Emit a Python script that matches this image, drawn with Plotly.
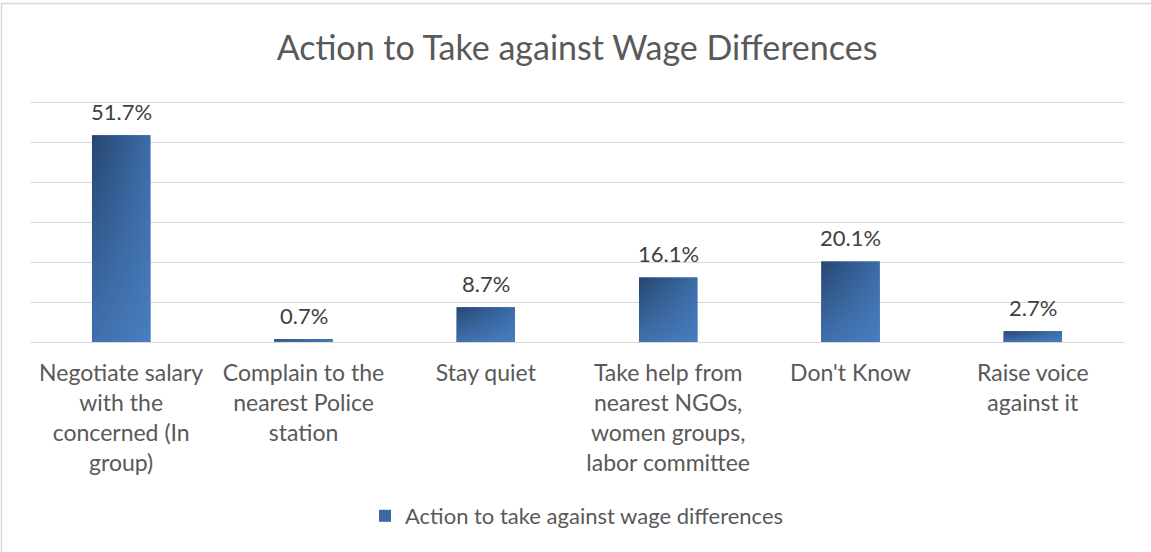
import plotly.graph_objects as go

# Survey responses: share of respondents choosing each action
categories = [
    "Negotiate salary<br>with the<br>concerned (In<br>group)",
    "Complain to the<br>nearest Police<br>station",
    "Stay quiet",
    "Take help from<br>nearest NGOs,<br>women groups,<br>labor committee",
    "Don't Know",
    "Raise voice<br>against it",
]
values = [51.7, 0.7, 8.7, 16.1, 20.1, 2.7]
series_name = "Action to take against wage differences"
title_text = "Action to Take against Wage Differences"

FONT = "Lato"
GREY = "#595959"
GRID = "#d9d9d9"
BAR_W = 0.32
Y_MAX = 61

positions = list(range(len(values)))

fig = go.Figure()

# Base bars (solid fill, provides the legend swatch)
fig.add_trace(go.Bar(
    x=positions, y=values, width=BAR_W, name=series_name,
    marker=dict(color="#3b68a3", line=dict(width=0)),
    hoverinfo="skip",
))

# Diagonal-looking gradient: a horizontal gradient plus a vertical wash on top
for x, v in zip(positions, values):
    xs = [x - BAR_W / 2, x + BAR_W / 2, x + BAR_W / 2, x - BAR_W / 2, x - BAR_W / 2]
    ys = [0, 0, v, v, 0]
    fig.add_trace(go.Scatter(
        x=xs, y=ys, mode="none", fill="toself", showlegend=False, hoverinfo="skip",
        fillgradient=dict(type="horizontal",
                          colorscale=[[0, "rgb(38,70,112)"], [1, "rgb(60,108,168)"]]),
    ))
    fig.add_trace(go.Scatter(
        x=xs, y=ys, mode="none", fill="toself", showlegend=False, hoverinfo="skip",
        fillgradient=dict(type="vertical",
                          colorscale=[[0, "rgba(78,135,205,0.65)"], [1, "rgba(78,135,205,0)"]]),
    ))

# Value labels above each bar
for x, v in zip(positions, values):
    fig.add_annotation(
        x=x, y=v, text=f"{v:.1f}%", showarrow=False, yanchor="middle", yshift=24,
        font=dict(family=FONT, size=22, color="#404040"),
    )

PL, PR, PT, PB = 30, 27, 98, 210
W, H = 1151, 552
pw, ph = W - PL - PR, H - PT - PB
BASE_Y = H - PB  # pixel row of the zero line

# Chart border
fig.add_shape(
    type="rect", xref="paper", yref="paper",
    x0=(1.5 - PL) / pw, x1=(W + 10 - PL) / pw,
    y0=-(H + 10 - BASE_Y) / ph, y1=(BASE_Y - 3.5) / ph,
    line=dict(color=GRID, width=1.5), fillcolor="rgba(0,0,0,0)", layer="below",
)

fig.update_layout(
    width=W, height=H,
    margin=dict(l=PL, r=PR, t=PT, b=PB),
    paper_bgcolor="white", plot_bgcolor="white",
    title=dict(text=title_text, x=0.5, xanchor="center", xref="paper",
               y=1 - 48 / H, yanchor="middle",
               font=dict(family=FONT, size=34, color=GREY)),
    xaxis=dict(range=[-0.5, 5.5], tickvals=positions, ticktext=categories,
               showgrid=False, zeroline=False, showline=False, ticks="",
               tickfont=dict(family=FONT, size=23, color=GREY),
               ticklabelstandoff=15),
    yaxis=dict(range=[0, Y_MAX], tickvals=[10, 20, 30, 40, 50, 60],
               showticklabels=False, showgrid=True,
               gridcolor=GRID, gridwidth=1.3, zeroline=True, zerolinecolor=GRID,
               zerolinewidth=1.3, showline=False),
    legend=dict(orientation="h", x=0.5, xanchor="center", y=-(516 - BASE_Y) / ph,
                yanchor="middle", font=dict(family=FONT, size=22, color=GREY),
                itemwidth=30),
    showlegend=True,
)

fig.write_html("out.html")
